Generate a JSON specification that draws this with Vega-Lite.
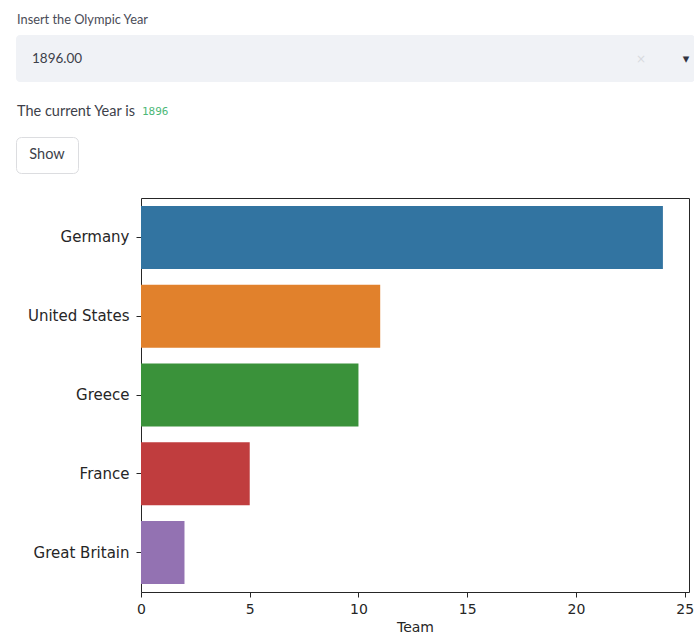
{
  "$schema": "https://vega.github.io/schema/vega-lite/v6.json",
  "padding": {"left": 15, "top": 0, "right": 0, "bottom": 0},
  "background": "white",
  "spacing": 23,
  "vconcat": [
    {
      "spacing": 0,
      "vconcat": [
        {
          "width": 679,
          "height": 35,
          "view": {"stroke": null},
          "data": {"values": [{"label": "Insert the Olympic Year"}]},
          "mark": {"type": "text", "align": "left", "dx": 1, "dy": 2, "font": "Lato", "fontSize": 12.8, "color": "#4a4c57"},
          "encoding": {
            "text": {"field": "label"},
            "x": {"datum": 0, "type": "quantitative", "scale": {"domain": [0, 1]}, "axis": null}
          }
        },
        {
          "width": 679,
          "height": 47,
          "view": {"stroke": null, "fill": "#f0f2f6", "cornerRadius": 4},
          "data": {"values": [{"value": "1896.00"}]},
          "layer": [
            {
              "mark": {"type": "text", "align": "left", "dx": 16, "font": "Lato", "fontSize": 13.5, "color": "#3d3f4a"},
              "encoding": {
                "text": {"field": "value"},
                "x": {"datum": 0, "type": "quantitative", "scale": {"domain": [0, 1]}, "axis": null}
              }
            },
            {
              "mark": {"type": "text", "align": "center", "dx": -54, "font": "DejaVu Sans", "fontSize": 12, "color": "#d8dadf", "text": "×"},
              "encoding": {
                "x": {"datum": 1, "type": "quantitative", "scale": {"domain": [0, 1]}, "axis": null}
              }
            },
            {
              "mark": {"type": "text", "align": "center", "dx": -9, "font": "DejaVu Sans", "fontSize": 13, "color": "#31333f", "text": "▾"},
              "encoding": {
                "x": {"datum": 1, "type": "quantitative", "scale": {"domain": [0, 1]}, "axis": null}
              }
            }
          ]
        },
        {
          "width": 679,
          "height": 54,
          "view": {"stroke": null},
          "data": {"values": [{"label": "The current Year is", "year": "1896"}]},
          "layer": [
            {
              "mark": {"type": "text", "align": "left", "dx": 1, "dy": 3, "font": "Lato", "fontSize": 14.5, "color": "#3d3f4a"},
              "encoding": {
                "text": {"field": "label"},
                "x": {"datum": 0, "type": "quantitative", "scale": {"domain": [0, 1]}, "axis": null}
              }
            },
            {
              "mark": {"type": "text", "align": "left", "dx": 126, "dy": 3, "font": "DejaVu Sans Mono", "fontSize": 11, "color": "#4cb877"},
              "encoding": {
                "text": {"field": "year"},
                "x": {"datum": 0, "type": "quantitative", "scale": {"domain": [0, 1]}, "axis": null}
              }
            }
          ]
        },
        {
          "width": 62,
          "height": 36,
          "view": {"stroke": "#dcdde0", "fill": "white", "cornerRadius": 5},
          "data": {"values": [{"label": "Show"}]},
          "mark": {"type": "text", "font": "Lato", "fontSize": 14.5, "color": "#3d3f4a"},
          "encoding": {"text": {"field": "label"}}
        }
      ]
    },
    {
      "spacing": 5,
      "hconcat": [
        {
          "width": 1,
          "height": 1,
          "view": {"stroke": null},
          "data": {"values": []},
          "mark": "rule",
          "encoding": {}
        },
        {
          "width": 548,
          "height": 394,
          "view": {"stroke": "#262626", "strokeWidth": 1},
          "data": {
            "values": [
              {"country": "Germany", "team": 24},
              {"country": "United States", "team": 11},
              {"country": "Greece", "team": 10},
              {"country": "France", "team": 5},
              {"country": "Great Britain", "team": 2}
            ]
          },
          "mark": {"type": "bar"},
          "encoding": {
            "y": {
              "field": "country",
              "type": "nominal",
              "sort": null,
              "scale": {"paddingInner": 0.2, "paddingOuter": 0.1},
              "axis": {
                "title": null,
                "domain": false,
                "tickSize": 5,
                "tickColor": "#262626",
                "labelPadding": 7,
                "labelFont": "DejaVu Sans",
                "labelFontSize": 15,
                "labelColor": "#262626",
                "minExtent": 118,
                "maxExtent": 118
              }
            },
            "x": {
              "field": "team",
              "type": "quantitative",
              "scale": {"domain": [0, 25.2], "nice": false},
              "axis": {
                "title": "Team",
                "values": [0, 5, 10, 15, 20, 25],
                "grid": false,
                "domain": false,
                "labelFlush": false,
                "tickSize": 5,
                "tickColor": "#262626",
                "labelPadding": 5,
                "labelFont": "DejaVu Sans",
                "labelFontSize": 14,
                "labelColor": "#262626",
                "titleFont": "DejaVu Sans",
                "titleFontSize": 14,
                "titleFontWeight": "normal",
                "titleColor": "#262626",
                "titlePadding": 4
              }
            },
            "color": {
              "field": "country",
              "type": "nominal",
              "sort": null,
              "scale": {
                "domain": ["Germany", "United States", "Greece", "France", "Great Britain"],
                "range": ["#3274a1", "#e1812c", "#3a923a", "#c03d3e", "#9372b2"]
              },
              "legend": null
            }
          }
        }
      ]
    }
  ]
}
